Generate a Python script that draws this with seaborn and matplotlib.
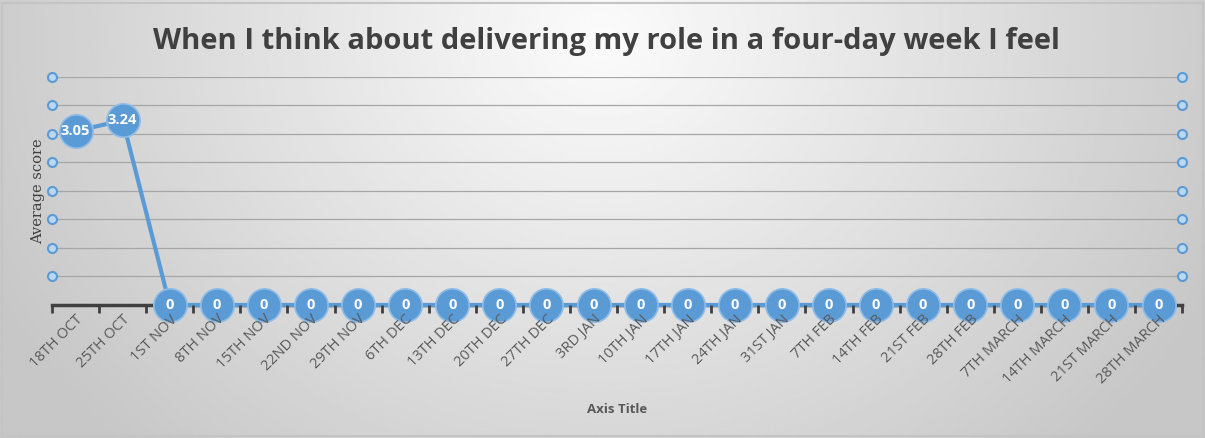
import numpy as np
import pandas as pd
import matplotlib
matplotlib.use("Agg")
import matplotlib.pyplot as plt
import seaborn as sns

weeks = ["18TH OCT", "25TH OCT", "1ST NOV", "8TH NOV", "15TH NOV", "22ND NOV",
         "29TH NOV", "6TH DEC", "13TH DEC", "20TH DEC", "27TH DEC", "3RD JAN",
         "10TH JAN", "17TH JAN", "24TH JAN", "31ST JAN", "7TH FEB", "14TH FEB",
         "21ST FEB", "28TH FEB", "7TH MARCH", "14TH MARCH", "21ST MARCH", "28TH MARCH"]
scores = [3.05, 3.24, 0, 0, 0, 0, 0, 0, 0, 0, 0, 0,
          0, 0, 0, 0, 0, 0, 0, 0, 0, 0, 0, 0]
y_ticks = [0.5, 1.0, 1.5, 2.0, 2.5, 3.0, 3.5, 4.0]

title = "When I think about delivering my role in a four-day week I feel"

sns.set_theme(style="white")
plt.rcParams["font.family"] = ["Open Sans", "DejaVu Sans"]

BLUE = "#5B9BD5"
TEXT = "#595959"

fig = plt.figure(figsize=(12.05, 4.38), dpi=100)

# soft radial background
bg = fig.add_axes([0, 0, 1, 1], zorder=0)
gx, gy = np.meshgrid(np.linspace(0, 1, 400), np.linspace(0, 1, 160))
r = np.sqrt(((gx - 0.5) / 0.55) ** 2 + ((gy - 0.08) / 1.3) ** 2)
shade = np.clip(0.985 - 0.2 * r, 0.78, 1.0)
bg.imshow(shade, cmap="gray", vmin=0, vmax=1, aspect="auto",
          extent=[0, 1, 1, 0], interpolation="bilinear")
bg.set_xlim(0, 1)
bg.set_ylim(1, 0)
bg.axis("off")
fig.patches.append(plt.Rectangle((0.002, 0.004), 0.996, 0.99, transform=fig.transFigure,
                                 fill=False, edgecolor="#c4c4c4", lw=1.5, zorder=1))

ax = fig.add_axes([0.0432, 0.3037, 0.9378, 0.5205], zorder=2)
ax.set_facecolor("none")

df = pd.DataFrame({"week": weeks, "score": scores})
sns.lineplot(data=df, x="week", y="score", sort=False, ax=ax, color=BLUE,
             lw=3, marker="o", markersize=24, markerfacecolor=BLUE,
             markeredgecolor="#8fbde8", markeredgewidth=1.2, zorder=4)
for line in ax.lines:
    line.set_clip_on(False)

for i, v in enumerate(scores):
    ax.text(i, v, f"{v:g}" if v == 0 else f"{v:.2f}", ha="center", va="center",
            color="white", fontsize=10.5, fontweight="bold", zorder=5)

ax.set_xlim(-0.5, len(weeks) - 0.5)
ax.set_ylim(0, 4.0)
ax.set_yticks(y_ticks)
ax.yaxis.grid(True, color="#a6a6a6", lw=0.9)
ax.xaxis.grid(False)
ax.tick_params(axis="y", length=0, labelleft=False)

# value axis markers drawn as small hollow rings on both sides
for side in (0, 1):
    ax.plot([side] * len(y_ticks), y_ticks, "o", transform=ax.get_yaxis_transform(),
            ms=6.5, mfc="#bcd7f0", mec=BLUE, mew=1.5, clip_on=False, zorder=3)

for s in ("left", "right", "top"):
    ax.spines[s].set_visible(False)
ax.spines["bottom"].set_color("#404040")
ax.spines["bottom"].set_linewidth(2.5)

ax.set_xticks(range(len(weeks)))
ax.set_xticklabels(weeks, rotation=45, ha="right", va="top", rotation_mode="anchor",
                   fontsize=10.5, color=TEXT)
ax.tick_params(axis="x", which="major", bottom=True, length=0, pad=5)
ax.set_xticks(np.arange(-0.5, len(weeks), 1.0), minor=True)
ax.tick_params(axis="x", which="minor", bottom=True, length=6, width=2,
               color="#404040", direction="out")
ax.xaxis.set_zorder(6)

ax.set_xlabel("Axis Title", fontsize=9.5, fontweight="bold", color=TEXT, labelpad=12)
ax.set_ylabel("Average score", fontsize=10.5, color="#404040", family=["DejaVu Serif"],
              labelpad=5)

fig.text(0.503, 0.905, title, ha="center", va="center", fontsize=21,
         fontweight="bold", color="#404040", zorder=3)

fig.savefig("out.png", dpi=100)
